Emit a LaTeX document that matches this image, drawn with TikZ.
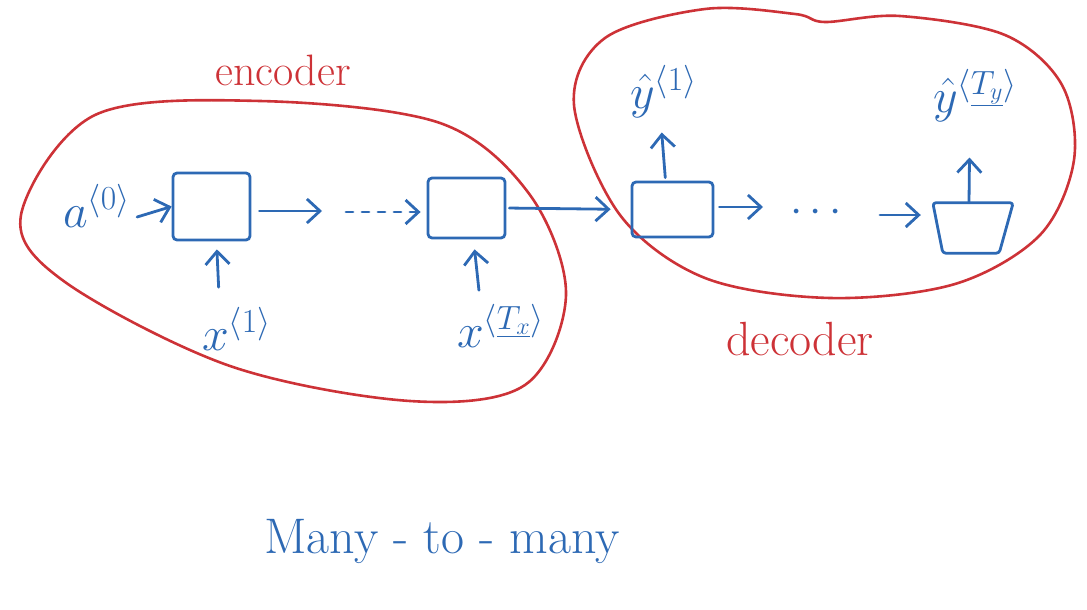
\RequirePackage{fix-cm}
\documentclass[tikz,border=0pt]{standalone}
\usetikzlibrary{arrows.meta,calc}
\definecolor{ink}{RGB}{45,105,180}
\definecolor{pen}{RGB}{205,50,55}
\begin{document}
\begin{tikzpicture}[x=1pt,y=-1pt,
  cell/.style={draw=ink, line width=2.8pt, rounded corners=4pt, inner sep=0pt},
  arr/.style={draw=ink, line width=2.8pt, line cap=round, line join=round,
              -{Straight Barb[length=13pt,width=24pt]}},
  lbl/.style={text=ink, inner sep=0pt, font=\fontsize{48}{50}\selectfont},
  blob/.style={draw=pen, line width=2.6pt, line cap=round, line join=round},
  tag/.style={text=pen, inner sep=0pt}
]
\useasboundingbox (0,0) rectangle (1087,610);

% encoder outline
\draw[blob] plot[smooth cycle, tension=0.55] coordinates {
  (21,215) (95,115) (260,101) (440,123) (530,195) (566,295)
  (525,385) (410,401) (230,366) (65,282)};

% decoder outline
\draw[blob] plot[smooth cycle, tension=0.55] coordinates {
  (574,105) (605,38) (705,9) (795,14) (825,22) (900,16) (1005,35)
  (1062,85) (1074,160) (1040,235) (955,284) (830,298) (705,278) (620,215)};

\node[tag, anchor=base, font=\fontsize{44}{46}\selectfont] (enc) at (283,85) {encoder};
\node[tag, anchor=base, font=\fontsize{48}{50}\selectfont] (dec) at (800,355) {decoder};

% recurrent cells
\node[cell, minimum width=77pt, minimum height=67pt] (box1) at (211.5,206.5) {};
\node[cell, minimum width=77pt, minimum height=60pt] (box2) at (466.5,208) {};
\node[cell, minimum width=81pt, minimum height=55pt] (box3) at (672.5,209.5) {};
\node[inner sep=0pt, minimum width=80pt, minimum height=50pt] (box4) at (973,228) {};
\draw[ink, line width=2.8pt, line join=round, rounded corners=3pt]
  (box4.north west) -- (box4.north east) -- ([xshift=-14pt]box4.south east)
  -- ([xshift=10pt]box4.south west) -- cycle;

% inputs and outputs
\node[lbl, anchor=base west] (a0) at (63,227) {$a^{\langle 0\rangle}$};
\node[lbl, anchor=base west] (x1) at (202,350) {$x^{\langle 1\rangle}$};
\node[lbl, anchor=base west] (xT) at (457,347) {$x^{\langle \underline{T_x}\rangle}$};
\node[lbl, anchor=base west] (y1) at (630,108) {$\hat{y}^{\langle 1\rangle}$};
\node[lbl, anchor=base west] (yT) at (933,112) {$\hat{y}^{\langle \underline{T_y}\rangle}$};

% gaps in the chains
\coordinate (e1) at (322,211);
\coordinate (e2) at (346,212);
\coordinate (d1) at (763,207);
\coordinate (d2) at (880,215);
\node[lbl, font=\fontsize{44}{46}\selectfont] (ddots) at (816,213) {$\cdots$};

% connections
\draw[arr] ([xshift=7pt,yshift=10pt]a0.base east) -- (box1.west);
\draw[arr, shorten <=8pt] (box1.east |- e1) -- (e1);
\draw[arr, dash pattern=on 7pt off 9pt, shorten >=6pt] (e2) -- (e2 -| box2.west);
\draw[arr, shorten <=3pt, shorten >=20pt] (box2.east) -- (box3.west);
\draw[arr, shorten <=5pt] (box3.east |- d1) -- (d1);
\draw[arr, shorten >=12pt] (d2) -- (d2 -| box4.west);
\draw[arr, shorten <=20pt, shorten >=8pt] ([xshift=-17pt]x1.north) -- ([xshift=5pt]box1.south);
\draw[arr, shorten <=14pt, shorten >=10pt] ([xshift=-20pt]xT.north) -- ([xshift=7pt]box2.south);
\draw[arr, shorten <=3pt, shorten >=15pt] ([xshift=-7pt]box3.north) -- ([xshift=-3pt]y1.south);
\draw[arr, shorten >=36pt] ([xshift=-4pt]box4.north) -- ([xshift=-5pt]yT.south);

\node[text=ink, inner sep=0pt, anchor=base, font=\fontsize{50}{52}\selectfont] (title) at (442,553) {Many - to - many};
\end{tikzpicture}
\end{document}
